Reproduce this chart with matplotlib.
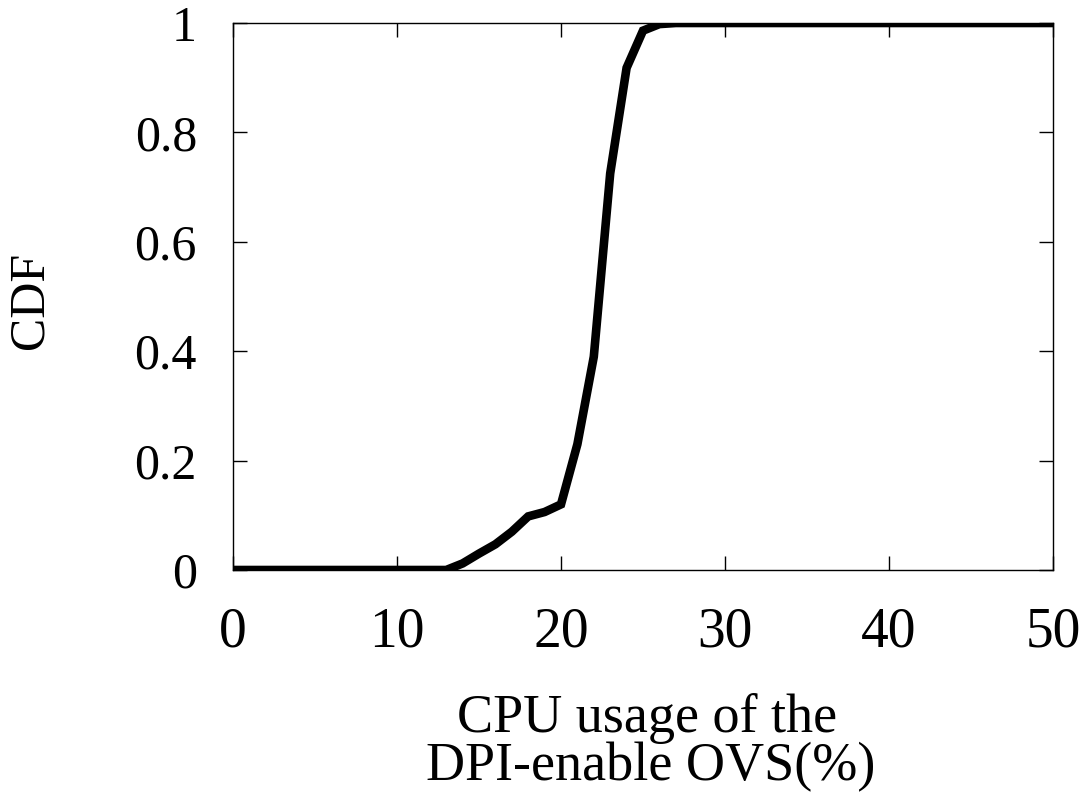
import matplotlib
matplotlib.use("Agg")
import matplotlib.pyplot as plt

cpu = [0, 13, 14, 15, 16, 17, 18, 19, 20, 21, 22, 23, 24, 25, 26, 27, 50]
cdf = [0, 0, 0.012, 0.03, 0.047, 0.07, 0.098, 0.106, 0.12, 0.23, 0.39, 0.725, 0.918, 0.986, 0.998, 1.0, 1.0]
x_ticks = [0, 10, 20, 30, 40, 50]
y_ticks = [0, 0.2, 0.4, 0.6, 0.8, 1]
y_tick_labels = ['0', '0.2', '0.4', '0.6', '0.8', '1']
x_label_lines = ['CPU usage of the', 'DPI-enable OVS(%)']
y_label = 'CDF'

plt.rcParams['font.family'] = ['Liberation Serif', 'DejaVu Serif']

W, H = 1092, 793
fig = plt.figure(figsize=(W/100, H/100), dpi=100)
ax = fig.add_axes([233/W, 1 - 570/H, (1053-233)/W, (570-23)/H])
ax.plot(cpu, cdf, color='black', linewidth=6.2, solid_joinstyle='miter')
ax.set_xlim(0, 50)
ax.set_ylim(0, 1)
ax.set_xticks(x_ticks)
ax.set_yticks(y_ticks)
ax.set_yticklabels(y_tick_labels)
ax.tick_params(direction='in', top=True, right=True, length=10, width=1)
ax.tick_params(axis='x', pad=26, labelsize=40)
ax.tick_params(axis='y', pad=26, labelsize=36)
for s in ax.spines.values():
    s.set_linewidth(1)

fig.text(647/W, 1 - 732/H, x_label_lines[0], fontsize=39, ha='center', va='baseline')
fig.text(651/W, 1 - 780/H, x_label_lines[1], fontsize=39, ha='center', va='baseline')
fig.text(30/W, 1 - 300/H, y_label, fontsize=36, ha='center', va='center', rotation=90)
fig.savefig('out.png', dpi=100)
